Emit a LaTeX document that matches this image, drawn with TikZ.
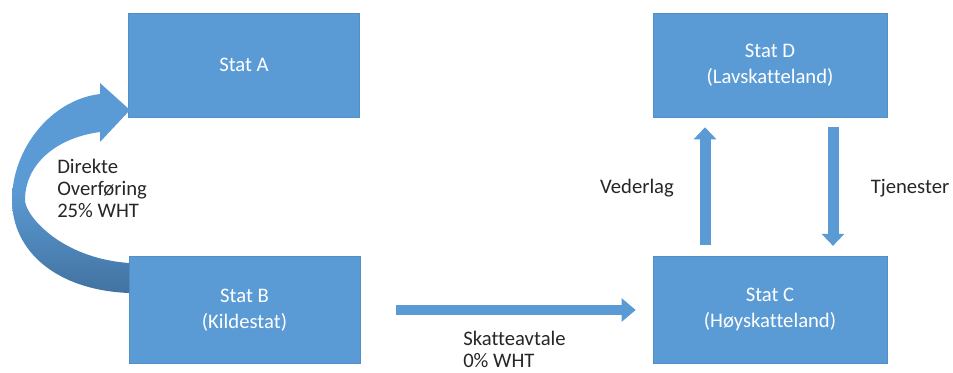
\documentclass[tikz,border=0pt]{standalone}
\usepackage{fontspec}
\setmainfont{Carlito}[Ligatures=NoCommon]
\usetikzlibrary{arrows.meta}
\definecolor{boxblue}{RGB}{91,155,213}
\definecolor{darkblue}{RGB}{66,114,160}
\definecolor{textgray}{RGB}{38,38,38}

\begin{document}
\begin{tikzpicture}[x=0.75pt,y=-0.75pt,
  state/.style={rectangle,fill=boxblue,draw=boxblue!92!black,line width=0.4pt,text=white,
    align=center,inner sep=0pt,minimum width=173.25pt,minimum height=78pt,
    font=\fontsize{15.5}{19.5}\selectfont},
  lbl/.style={text=textgray,align=left,inner sep=0pt,font=\fontsize{15.5}{16.5}\selectfont},
  flow/.style={draw=boxblue,line width=8.25pt,-{Triangle[length=9pt,width=16.5pt]}}]
\useasboundingbox (0,0) rectangle (953,372);
% boxes
\node [state] (A) at (244,65) {Stat A};
\node [state,minimum height=80pt] (B) at (244.5,310) {Stat B\\(Kildestat)};
\node [state,minimum width=175.5pt] (D) at (770,65) {Stat D\\(Lavskatteland)};
\node [state,minimum width=175.5pt,minimum height=80pt] (C) at (770,309.5) {Stat C\\(Høyskatteland)};
% curved arrow B -> A
\shade [top color=boxblue,bottom color=darkblue,middle color=boxblue]
  (129,293) .. controls (55,290) and (12,250) .. (12,200)
  .. controls (12,150) and (50,100) .. (100,94) -- (100,83) -- (130,110)
  -- (100,142) -- (100,132) .. controls (55,138) and (25,165) .. (25,200)
  .. controls (25,215) and (60,258) .. (129,263) -- cycle;
% straight arrows
\draw [flow,line width=7.5pt,-{Triangle[length=10.5pt,width=17pt]},shorten <=27pt,shorten >=12.75pt]
  (B.east) -- (B.east -| C.west);
\draw [flow,shorten <=8.25pt,shorten >=7.5pt] ([xshift=-48.75pt]C.north) -- ([xshift=-48.75pt]D.south);
\draw [flow,shorten <=7.5pt,shorten >=7.5pt] ([xshift=47.25pt]D.south) -- ([xshift=47.25pt]C.north);
% labels
\node [lbl,anchor=west] (direkte) at (57,188) {Direkte\\Overføring\\25\% WHT};
\node [lbl,anchor=west] (avtale) at (463,349) {Skatteavtale\\0\% WHT};
\node [lbl] (vederlag) at (637,188) {Vederlag};
\node [lbl] (tjenester) at (910,188) {Tjenester};
\end{tikzpicture}
\end{document}
